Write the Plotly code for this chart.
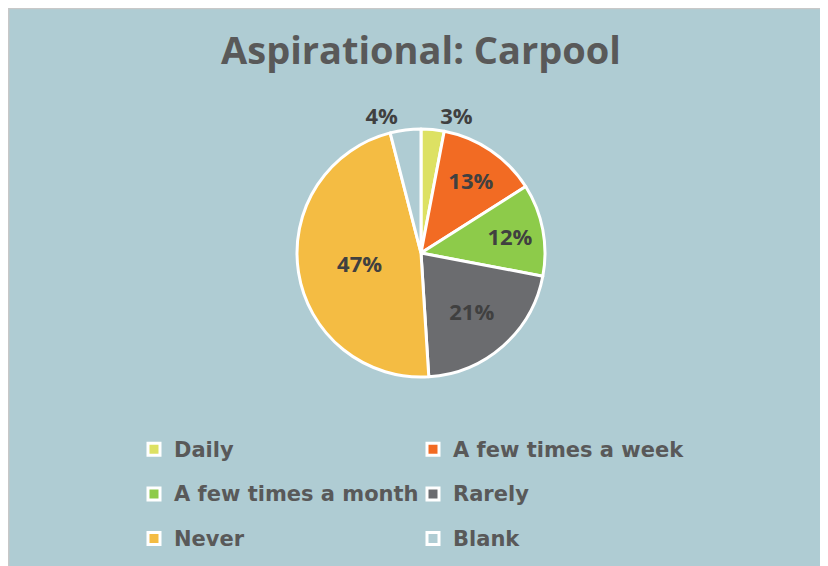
import plotly.graph_objects as go

categories = ["Daily", "A few times a week", "A few times a month", "Rarely", "Never", "Blank"]
values = [3, 13, 12, 21, 47, 4]
colors = ["#DDE163", "#F26B23", "#8DCB4A", "#6B6C6F", "#F4BC43", "#AFCCD3"]
text_positions = ["outside", "inside", "inside", "inside", "inside", "outside"]

BG = "#AFCCD3"
W, H = 828, 566
OFF = 8  # page body margin in the browser

# legend text shown at 21px inside a taller legend row
legend_labels = ['<span style="font-size:21px;baseline-shift:5px">%s</span>' % c for c in categories]

cx, cy, r = 421 - OFF, 253 - OFF, 124

fig = go.Figure(go.Pie(
    labels=legend_labels,
    values=values,
    sort=False,
    direction="clockwise",
    rotation=0,
    marker=dict(colors=colors, line=dict(color="white", width=3)),
    texttemplate="%{value}%",
    textposition=text_positions,
    insidetextorientation="horizontal",
    textfont=dict(family="Open Sans", size=22, color="#404040", weight=700),
    outsidetextfont=dict(family="Open Sans", size=22, color="#404040", weight=700),
    domain=dict(x=[(cx - r) / W, (cx + r) / W], y=[1 - (cy + r) / H, 1 - (cy - r) / H]),
    hovertemplate="%{label}: %{value}%<extra></extra>",
))

fig.update_layout(
    width=W, height=H,
    margin=dict(l=0, r=0, t=0, b=0),
    paper_bgcolor=BG,
    title=dict(text="Aspirational: Carpool", x=(421 - OFF) / W, xanchor="center",
               y=1 - (51 - OFF) / H, yanchor="middle", yref="container",
               font=dict(family="Open Sans", size=38, color="#595959", weight=700)),
    showlegend=True,
    legend=dict(orientation="h", x=(142 - 16) / W, y=1 - 414 / H, xanchor="left", yanchor="top",
                entrywidth=234, entrywidthmode="pixels",
                font=dict(family="DejaVu Sans", size=32, color="#595959", weight=700),
                bgcolor="rgba(0,0,0,0)", traceorder="normal"),
    shapes=[
        dict(type="line", xref="paper", yref="paper", x0=0, x1=1, y0=0.999, y1=0.999,
             line=dict(color="#C8C8C8", width=1.5)),
        dict(type="line", xref="paper", yref="paper", x0=0.0008, x1=0.0008, y0=0, y1=1,
             line=dict(color="#C8C8C8", width=1.5)),
    ],
)

fig.write_html("out.html")
